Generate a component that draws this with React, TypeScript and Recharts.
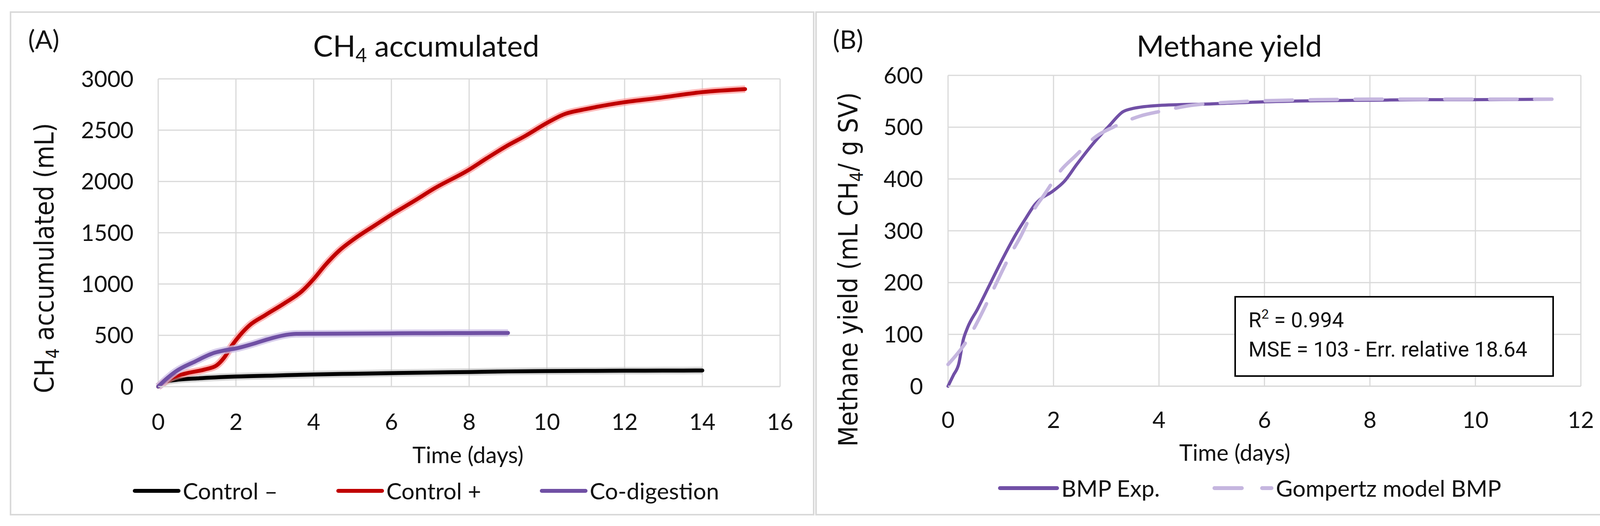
import { LineChart, Line, XAxis, YAxis, CartesianGrid, Legend } from 'recharts'

// (A) CH4 accumulated, mL vs days
const ctrlNegDays = [0, 0.2, 0.45, 1, 2, 3, 4, 5, 6, 7, 8, 9, 10, 11, 12, 13, 14]
const ctrlNegMl = [0, 49, 65, 80, 98, 108, 118, 125, 131, 137, 142, 148, 151, 153, 155, 156, 157]

const ctrlPosDays = [0, 0.25, 0.7, 1.2, 1.5, 1.7, 1.9, 2.1, 2.35, 2.75, 3.25, 3.7, 4.0, 4.3, 4.65, 5.05, 5.6, 6.0, 6.6, 7.1, 8.0, 8.45, 8.95, 9.45, 10.0, 10.45, 11.0, 12.0, 12.85, 14.0, 15.1]
const ctrlPosMl = [0, 69, 127, 167, 206, 284, 402, 500, 598, 696, 813, 931, 1049, 1186, 1323, 1441, 1578, 1676, 1813, 1931, 2115, 2225, 2342, 2445, 2570, 2656, 2705, 2773, 2813, 2871, 2900]

const coDigDays = [0, 0.25, 0.45, 0.95, 1.45, 1.7, 2.0, 2.4, 2.9, 3.3, 3.55, 4, 5, 6, 7, 8, 9]
const coDigMl = [0, 88, 147, 245, 330, 353, 372, 412, 470, 505, 514, 515, 517, 519, 521, 522, 523]

const accXTicks = [0, 2, 4, 6, 8, 10, 12, 14, 16]
const accYTicks = [0, 500, 1000, 1500, 2000, 2500, 3000]

// (B) Methane yield, mL CH4 / g SV vs days
const bmpDays = [0, 0.1, 0.2, 0.29, 0.37, 0.56, 0.79, 1.02, 1.29, 1.48, 1.65, 1.75, 1.98, 2.21, 2.44, 2.74, 3.05, 3.32, 3.5, 4.0, 5.0, 6.0, 7, 8, 9, 10, 11.45]
const bmpYield = [0, 21, 42, 90, 113, 149, 196, 243, 294, 325, 351, 361, 376, 396, 428, 467, 502, 530, 536, 542, 545, 549, 551, 552, 553, 553, 554]

const gompDays = [0, 0.37, 0.52, 0.79, 0.94, 1.21, 1.36, 1.63, 1.82, 2.15, 2.4, 2.82, 3.13, 3.66, 4.0, 4.54, 5.5, 6, 7, 8, 9, 10, 11.45]
const gompYield = [42, 90, 117, 172, 204, 259, 286, 341, 369, 418, 443, 483, 500, 522, 530, 541, 549, 551, 553, 554, 554, 554, 554]

const yieldXTicks = [0, 2, 4, 6, 8, 10, 12]
const yieldYTicks = [0, 100, 200, 300, 400, 500, 600]

const zip = (xs: number[], ys: number[]) => xs.map((day, i) => ({ day, v: ys[i] }))

const GRID = '#d9d9d9'
const TICK_FONT = 'Lato, Carlito, sans-serif'
const AXIS_TITLE_FONT = '"DejaVu Sans Condensed", "DejaVu Sans", sans-serif'
const tickStyle = { fontSize: 58, fontFamily: TICK_FONT, fill: '#111' }

type LegendItem = { name: string; color: string; dash?: string }

const accLegend: LegendItem[] = [
  { name: 'Control –', color: '#000000' },
  { name: 'Control +', color: '#c00000' },
  { name: 'Co-digestion', color: '#7050a4' },
]
const yieldLegend: LegendItem[] = [
  { name: 'BMP Exp.', color: '#7150a6' },
  { name: 'Gompertz model BMP', color: '#c5b6df', dash: '70 52' },
]

function legendContent(items: LegendItem[], padLeft: number, gap: number, lineLen: number) {
  return () => (
    <div style={{ display: 'flex', alignItems: 'center', paddingLeft: padLeft, gap, fontFamily: TICK_FONT, fontSize: 59, color: '#111', whiteSpace: 'nowrap', lineHeight: 1.2 }}>
      {items.map(it => (
        <div key={it.name} style={{ display: 'flex', alignItems: 'center' }}>
          <svg width={lineLen} height={20}>
            <line x1={5} x2={lineLen - 5} y1={10} y2={10} stroke={it.color} strokeWidth={10} strokeLinecap="round" strokeDasharray={it.dash} />
          </svg>
          <span style={{ marginLeft: 6 }}>{it.name}</span>
        </div>
      ))}
    </div>
  )
}

function AccumulatedChart() {
  return (
    <LineChart width={2085} height={1347} margin={{ top: 202, right: 88, bottom: 297, left: 0 }}>
      <CartesianGrid stroke={GRID} strokeWidth={3} />
      <XAxis type="number" dataKey="day" domain={[0, 16]} ticks={accXTicks} interval={0} height={60}
        axisLine={{ stroke: GRID, strokeWidth: 3 }} tickLine={false} tickSize={0} tickMargin={70} tick={tickStyle} />
      <YAxis type="number" domain={[0, 3000]} ticks={accYTicks} interval={0} width={405}
        axisLine={false} tickLine={false} tickSize={0} tickMargin={63} tick={tickStyle} />
      <Line data={zip(ctrlNegDays, ctrlNegMl)} dataKey="v" type="monotone" stroke="#bdbdbd" strokeOpacity={0.6} strokeWidth={19} dot={false} activeDot={false} legendType="none" isAnimationActive={false} />
      <Line data={zip(ctrlNegDays, ctrlNegMl)} dataKey="v" name={accLegend[0].name} type="monotone" stroke={accLegend[0].color} strokeWidth={10} strokeLinecap="round" dot={false} activeDot={false} isAnimationActive={false} />
      <Line data={zip(ctrlPosDays, ctrlPosMl)} dataKey="v" type="monotone" stroke="#ff8a8a" strokeOpacity={0.6} strokeWidth={19} dot={false} activeDot={false} legendType="none" isAnimationActive={false} />
      <Line data={zip(ctrlPosDays, ctrlPosMl)} dataKey="v" name={accLegend[1].name} type="monotone" stroke={accLegend[1].color} strokeWidth={10} strokeLinecap="round" dot={false} activeDot={false} isAnimationActive={false} />
      <Line data={zip(coDigDays, coDigMl)} dataKey="v" type="monotone" stroke="#cbbde6" strokeOpacity={0.75} strokeWidth={19} dot={false} activeDot={false} legendType="none" isAnimationActive={false} />
      <Line data={zip(coDigDays, coDigMl)} dataKey="v" name={accLegend[2].name} type="monotone" stroke={accLegend[2].color} strokeWidth={10} strokeLinecap="round" dot={false} activeDot={false} isAnimationActive={false} />
      <Legend layout="horizontal" verticalAlign="middle" align="center"
        wrapperStyle={{ top: 1222, left: 0, width: 2085 }} content={legendContent(accLegend, 340, 150, 122)} />
    </LineChart>
  )
}

function YieldChart() {
  return (
    <LineChart width={2063} height={1347} margin={{ top: 193, right: 101, bottom: 298, left: 0 }}>
      <CartesianGrid stroke={GRID} strokeWidth={3} />
      <XAxis type="number" dataKey="day" domain={[0, 12]} ticks={yieldXTicks} interval={0} height={60}
        axisLine={{ stroke: GRID, strokeWidth: 3 }} tickLine={false} tickSize={0} tickMargin={66} tick={tickStyle} />
      <YAxis type="number" domain={[0, 600]} ticks={yieldYTicks} interval={0} width={342}
        axisLine={false} tickLine={false} tickSize={0} tickMargin={64} tick={tickStyle} />
      <Line data={zip(bmpDays, bmpYield)} dataKey="v" name={yieldLegend[0].name} type="monotone" stroke={yieldLegend[0].color} strokeWidth={8} strokeLinecap="round" dot={false} activeDot={false} isAnimationActive={false} />
      <Line data={zip(gompDays, gompYield)} dataKey="v" name={yieldLegend[1].name} type="monotone" stroke={yieldLegend[1].color} strokeWidth={9} strokeLinecap="round" strokeDasharray="70 45" dot={false} activeDot={false} isAnimationActive={false} />
      <Legend layout="horizontal" verticalAlign="middle" align="center"
        wrapperStyle={{ top: 1215, left: 0, width: 2063 }} content={legendContent(yieldLegend, 2555 - 2085, 135, 156)} />
    </LineChart>
  )
}

export default function App() {
  return (
    <div style={{ position: 'absolute', left: 0, top: 0, width: 4148, height: 1347, background: '#fff', overflow: 'hidden' }}>
      <div style={{ position: 'absolute', left: 0, top: 0 }}>
        <AccumulatedChart />
      </div>
      <div style={{ position: 'absolute', left: 2085, top: 0 }}>
        <YieldChart />
      </div>
      <svg width={4148} height={1347} style={{ position: 'absolute', left: 0, top: 0, pointerEvents: 'none' }}>
        <rect x={27} y={31} width={2056} height={1287} fill="none" stroke={GRID} strokeWidth={4} />
        <rect x={2089} y={31} width={2036} height={1287} fill="none" stroke={GRID} strokeWidth={4} />

        <g fontFamily={TICK_FONT} fill="#111">
          <text x={112} y={125} fontSize={66} textAnchor="middle">(A)</text>
          <text x={2171} y={125} fontSize={66} textAnchor="middle">(B)</text>
          <text x={1091} y={145} fontSize={76} textAnchor="middle">
            CH<tspan fontSize={50} dy={14}>4</tspan><tspan dy={-14}> accumulated</tspan>
          </text>
          <text x={3147} y={145} fontSize={76} textAnchor="middle">Methane yield</text>
          <text x={1198} y={1186} fontSize={58} textAnchor="middle">Time (days)</text>
          <text x={3161} y={1180} fontSize={58} textAnchor="middle">Time (days)</text>
        </g>

        <g fontFamily={AXIS_TITLE_FONT} fill="#111" fontSize={68}>
          <text x={137} y={661} textAnchor="middle" transform="rotate(-90 137 661)">
            CH<tspan fontSize={46} dy={14}>4</tspan><tspan dy={-14}> accumulated (mL)</tspan>
          </text>
          <text x={2195} y={690} textAnchor="middle" transform="rotate(-90 2195 690)">
            Methane yield (mL CH<tspan fontSize={46} dy={14}>4</tspan><tspan dy={-14}>/ g SV)</tspan>
          </text>
        </g>

        <rect x={3162} y={760} width={814} height={203} fill="#fff" stroke="#000" strokeWidth={4} />
        <g fontFamily="Roboto, sans-serif" fill="#111" fontSize={54}>
          <text x={3196} y={838}>R<tspan fontSize={34} dy={-22}>2</tspan><tspan dy={22}> = 0.994</tspan></text>
          <text x={3196} y={913}>MSE = 103 - Err. relative 18.64</text>
        </g>
      </svg>
    </div>
  )
}
